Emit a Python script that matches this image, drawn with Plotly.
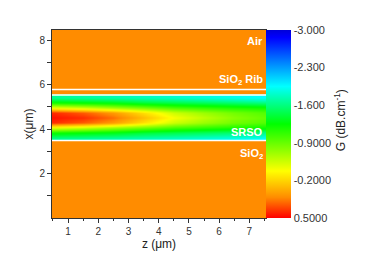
import plotly.graph_objects as go

# propagation distance (um) – column centres
z_pos = [0.5, 1.5, 2.5, 3.5, 4.5, 5.5, 6.5, 7.5]
# transverse position (um) – row centres across the SRSO layer (3.48 .. 5.55)
x_pos = [3.595, 3.825, 4.055, 4.285, 4.515, 4.745, 4.975, 5.205, 5.435]

edge = [-1.65, -1.68, -1.72, -1.76, -1.80, -1.85, -1.90, -1.95]
d76 = [-1.20, -1.25, -1.30, -1.40, -1.45, -1.50, -1.55, -1.60]
d51 = [-0.45, -0.55, -0.70, -0.85, -1.00, -1.08, -1.15, -1.20]
d25 = [0.38, 0.25, 0.05, -0.25, -0.55, -0.72, -0.86, -0.96]
centre = [0.45, 0.38, 0.20, -0.10, -0.40, -0.60, -0.78, -0.90]
gain = [edge, d76, d51, d25, centre, d25, d51, d76, edge]

# layer boundaries (um)
boundaries = [5.78, 5.53, 3.48]

# region labels
labels = ["Air", "SiO<sub>2</sub> Rib", "SRSO", "SiO<sub>2</sub>"]
label_x = [7.96, 6.22, 3.87, 2.89]

cbar_ticks = [-3.0, -2.3, -1.6, -0.9, -0.2, 0.5]
cbar_text = ["-3.000", "-2.300", "-1.600", "-0.9000", "-0.2000", "0.5000"]

# colour scale defined from G = 0.5 (red, bottom of bar) to G = -3 (blue, top)
colorscale = [
    [0.0, "#FF0000"],
    [0.11, "#FF8C00"],
    [0.25, "#FFFF00"],
    [0.50, "#00FF00"],
    [0.70, "#00FFFF"],
    [0.96, "#0000FF"],
    [1.0, "#0000D8"],
]

# the colour bar runs downward (−3 on top), so the displayed scale is −G
neg_gain = [[-v for v in row] for row in gain]

fig = go.Figure()
fig.add_trace(go.Heatmap(
    x=z_pos, y=x_pos, z=neg_gain,
    zmin=-0.5, zmax=3.0, zsmooth="best",
    colorscale=colorscale,
    hovertemplate="z=%{x}<br>x=%{y}<extra></extra>",
    colorbar=dict(
        x=1.0, xanchor="left", xpad=0, y=1, yanchor="top", len=1, lenmode="fraction",
        thickness=25, ypad=0, outlinewidth=0,
        tickvals=[-v for v in cbar_ticks], ticktext=cbar_text, ticks="",
        tickfont=dict(size=11, color="#333"),
    ),
    showscale=True,
))

for b in boundaries:
    fig.add_shape(type="line", xref="paper", x0=0, x1=1, yref="y", y0=b, y1=b,
                  line=dict(color="white", width=1.5))

for t, y in zip(labels, label_x):
    fig.add_annotation(text="<b>" + t + "</b>", xref="paper", x=0.995, xanchor="right",
                       yref="y", y=y, yanchor="middle", showarrow=False,
                       font=dict(color="white", size=11))

# colour-bar title
fig.add_annotation(text="G (dB.cm<sup>-1</sup>)", xref="paper", x=1.346, yref="paper", y=0.52,
                   xanchor="center", yanchor="middle", textangle=-90, showarrow=False,
                   font=dict(size=12, color="#222"))

fig.update_layout(
    width=367, height=255,
    margin=dict(l=44, r=109, t=22, b=45, autoexpand=False),
    plot_bgcolor="#FF8C00", paper_bgcolor="white",
    font=dict(family="Liberation Sans, Arial", size=11, color="#333"),
)
fig.update_xaxes(
    range=[0.47, 7.55], tickvals=[1, 2, 3, 4, 5, 6, 7], ticks="outside", ticklen=4,
    tickcolor="#333", showline=True, linecolor="#333", linewidth=1, mirror=True,
    showgrid=False, zeroline=False, automargin=False,
    minor=dict(tickvals=[1.5, 2.5, 3.5, 4.5, 5.5, 6.5, 7.5, 0.5], ticks="outside", ticklen=2, tickcolor="#333"),
    title=dict(text="z (μm)", font=dict(size=12, color="#222"), standoff=2),
    tickfont=dict(size=10),
)
fig.update_yaxes(
    range=[0, 8.45], tickvals=[2, 4, 6, 8], ticks="outside", ticklen=4,
    tickcolor="#333", showline=True, linecolor="#333", linewidth=1, mirror=True,
    showgrid=False, zeroline=False, automargin=False,
    minor=dict(tickvals=[1, 3, 5, 7], ticks="outside", ticklen=4, tickcolor="#333"),
    title=dict(text="x(μm)", font=dict(size=12, color="#222"), standoff=3),
    tickfont=dict(size=10),
)

fig.write_html("out.html")
